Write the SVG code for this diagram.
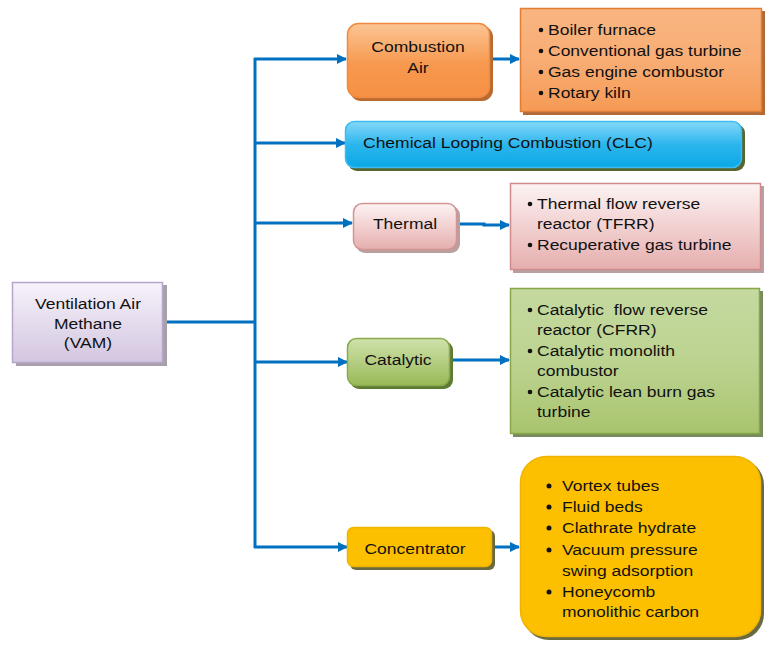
<svg xmlns="http://www.w3.org/2000/svg" width="765" height="646" viewBox="0 0 765 646">
<defs>
<linearGradient id="gVam" x1="0" y1="0" x2="0" y2="1"><stop offset="0" stop-color="#f6f2fa"/><stop offset="1" stop-color="#d3c6e0"/></linearGradient>
<linearGradient id="gOr" x1="0" y1="0" x2="0" y2="1"><stop offset="0" stop-color="#fbc594"/><stop offset="0.55" stop-color="#f7994f"/><stop offset="1" stop-color="#f69044"/></linearGradient>
<linearGradient id="gOr2" x1="0" y1="0" x2="0" y2="1"><stop offset="0" stop-color="#f9b581"/><stop offset="0.5" stop-color="#f8ad74"/><stop offset="1" stop-color="#f69a55"/></linearGradient>
<linearGradient id="gBl" x1="0" y1="0" x2="0" y2="1"><stop offset="0" stop-color="#84d8f8"/><stop offset="0.5" stop-color="#2cb6ee"/><stop offset="1" stop-color="#0aa8e6"/></linearGradient>
<linearGradient id="gPk" x1="0" y1="0" x2="0" y2="1"><stop offset="0" stop-color="#fdf3f3"/><stop offset="1" stop-color="#e6aeae"/></linearGradient>
<linearGradient id="gGr" x1="0" y1="0" x2="0" y2="1"><stop offset="0" stop-color="#d0e2ac"/><stop offset="1" stop-color="#98b957"/></linearGradient>
<linearGradient id="gGr2" x1="0" y1="0" x2="0" y2="1"><stop offset="0" stop-color="#c5d9a0"/><stop offset="0.5" stop-color="#bcd390"/><stop offset="1" stop-color="#a9c46e"/></linearGradient>
<marker id="ah" viewBox="0 0 10 10" refX="9" refY="5" markerWidth="10" markerHeight="10" markerUnits="userSpaceOnUse" orient="auto"><path d="M0,0 L10,5 L0,10 z" fill="#0070c0"/></marker>
</defs>
<style>
text{font-family:"Liberation Sans",Arial,sans-serif;font-size:15.5px;fill:#111}
.c{text-anchor:middle}
.conn line,.conn polyline{stroke:#0070c0;stroke-width:3;fill:none}
.arr{marker-end:url(#ah)}
.b{fill:#111}
</style>
<rect width="765" height="646" fill="#fff"/>

<g class="conn" id="connectors">
<line x1="163" y1="322" x2="255" y2="322"/>
<line x1="255" y1="58" x2="255" y2="548"/>
<line class="arr" x1="254" y1="59" x2="346" y2="59"/>
<line class="arr" x1="254" y1="143" x2="345" y2="143"/>
<line class="arr" x1="254" y1="223" x2="352" y2="223"/>
<line class="arr" x1="254" y1="362" x2="347" y2="362"/>
<line class="arr" x1="254" y1="547" x2="347" y2="547"/>
<line class="arr" x1="490" y1="59" x2="519" y2="59"/>
<polyline class="arr" points="457,224 484,224 484,225 509,225"/>
<line class="arr" x1="450" y1="360" x2="509" y2="360"/>
<line class="arr" x1="492" y1="547" x2="519" y2="547"/>
</g>

<g id="vam">
<rect x="16" y="285" width="151" height="81" fill="#a8a0a8"/>
<rect x="12.5" y="282.5" width="150" height="80" fill="url(#gVam)" stroke="#b6a6cc" stroke-width="1.5"/>
<text class="c" transform="translate(88 309) scale(1.13 1)">Ventilation Air</text>
<text class="c" transform="translate(88 329) scale(1.13 1)">Methane</text>
<text class="c" transform="translate(88 348) scale(1.13 1)">(VAM)</text>
</g>

<g id="combustion-air">
<rect x="350" y="26" width="143" height="75" rx="11" fill="#b86a30"/>
<rect x="347.5" y="23.5" width="142" height="74" rx="11" fill="url(#gOr)" stroke="#f08a40" stroke-width="1.5"/>
<text class="c" transform="translate(418 52) scale(1.13 1)">Combustion</text>
<text class="c" transform="translate(418 73) scale(1.13 1)">Air</text>
</g>

<g id="combustion-list">
<rect x="523" y="11" width="242" height="104" fill="#b06a38"/>
<rect x="520.5" y="8.5" width="241" height="103" fill="url(#gOr2)" stroke="#e07e36" stroke-width="1.5"/>
<circle class="b" cx="541" cy="30" r="2.3"/><text transform="translate(548 34.5) scale(1.13 1)">Boiler furnace</text>
<circle class="b" cx="541" cy="51" r="2.3"/><text transform="translate(548 55.5) scale(1.13 1)">Conventional gas turbine</text>
<circle class="b" cx="541" cy="72" r="2.3"/><text transform="translate(548 76.5) scale(1.13 1)">Gas engine combustor</text>
<circle class="b" cx="541" cy="93" r="2.3"/><text transform="translate(548 97.5) scale(1.13 1)">Rotary kiln</text>
</g>

<g id="clc">
<rect x="348" y="124" width="397" height="47" rx="9" fill="#56642e"/>
<rect x="345.5" y="121.5" width="396" height="46" rx="9" fill="url(#gBl)" stroke="#3cbcf0" stroke-width="1.5"/>
<text transform="translate(363 147.5) scale(1.13 1)">Chemical Looping Combustion (CLC)</text>
</g>

<g id="thermal">
<rect x="356" y="206" width="104" height="47" rx="9" fill="#b8a0a0"/>
<rect x="353.5" y="203.5" width="103" height="46" rx="9" fill="url(#gPk)" stroke="#d49494" stroke-width="1.5"/>
<text class="c" transform="translate(405 229) scale(1.13 1)">Thermal</text>
</g>

<g id="thermal-list">
<rect x="513" y="186" width="251" height="87" fill="#b8a0a0"/>
<rect x="510.5" y="183.5" width="250" height="86" fill="url(#gPk)" stroke="#d08c8c" stroke-width="1.5"/>
<circle class="b" cx="530" cy="204" r="2.3"/><text transform="translate(537 208.5) scale(1.13 1)">Thermal flow reverse</text>
<text transform="translate(537 228.5) scale(1.13 1)">reactor (TFRR)</text>
<circle class="b" cx="530" cy="245" r="2.3"/><text transform="translate(537 249.5) scale(1.13 1)">Recuperative gas turbine</text>
</g>

<g id="catalytic">
<rect x="350" y="341" width="103" height="48" rx="9" fill="#5f7a32"/>
<rect x="347.5" y="338.5" width="102" height="47" rx="9" fill="url(#gGr)" stroke="#8aab4c" stroke-width="1.5"/>
<text class="c" transform="translate(398 365) scale(1.13 1)">Catalytic</text>
</g>

<g id="catalytic-list">
<rect x="513" y="291" width="250" height="146" fill="#7a8a60"/>
<rect x="510.5" y="288.5" width="249" height="145" fill="url(#gGr2)" stroke="#86a848" stroke-width="1.5"/>
<circle class="b" cx="530" cy="310" r="2.3"/><text transform="translate(537 314.5) scale(1.13 1)" xml:space="preserve">Catalytic  flow reverse</text>
<text transform="translate(537 334.5) scale(1.13 1)">reactor (CFRR)</text>
<circle class="b" cx="530" cy="351" r="2.3"/><text transform="translate(537 355.5) scale(1.13 1)">Catalytic monolith</text>
<text transform="translate(537 376) scale(1.13 1)">combustor</text>
<circle class="b" cx="530" cy="392" r="2.3"/><text transform="translate(537 396.5) scale(1.13 1)">Catalytic lean burn gas</text>
<text transform="translate(537 417) scale(1.13 1)">turbine</text>
</g>

<g id="concentrator">
<rect x="350" y="530" width="145" height="40" rx="6" fill="#6a6a40"/>
<rect x="347.5" y="527.5" width="144" height="39" rx="6" fill="#fdc000" stroke="#f0b400" stroke-width="1.5"/>
<text class="c" transform="translate(415 554) scale(1.13 1)">Concentrator</text>
</g>

<g id="concentrator-list">
<rect x="523" y="459" width="241" height="181" rx="26" fill="#6a6a40"/>
<rect x="520.5" y="456.5" width="240" height="180" rx="26" fill="#fdc000" stroke="#f0b400" stroke-width="1.5"/>
<circle class="b" cx="549" cy="486" r="2.5"/><text transform="translate(562 491) scale(1.13 1)">Vortex tubes</text>
<circle class="b" cx="549" cy="507" r="2.5"/><text transform="translate(562 512) scale(1.13 1)">Fluid beds</text>
<circle class="b" cx="549" cy="528" r="2.5"/><text transform="translate(562 533) scale(1.13 1)">Clathrate hydrate</text>
<circle class="b" cx="549" cy="550" r="2.5"/><text transform="translate(562 555) scale(1.13 1)">Vacuum pressure</text>
<text transform="translate(562 576) scale(1.13 1)">swing adsorption</text>
<circle class="b" cx="549" cy="592" r="2.5"/><text transform="translate(562 597) scale(1.13 1)">Honeycomb</text>
<text transform="translate(562 617) scale(1.13 1)">monolithic carbon</text>
</g>
</svg>
